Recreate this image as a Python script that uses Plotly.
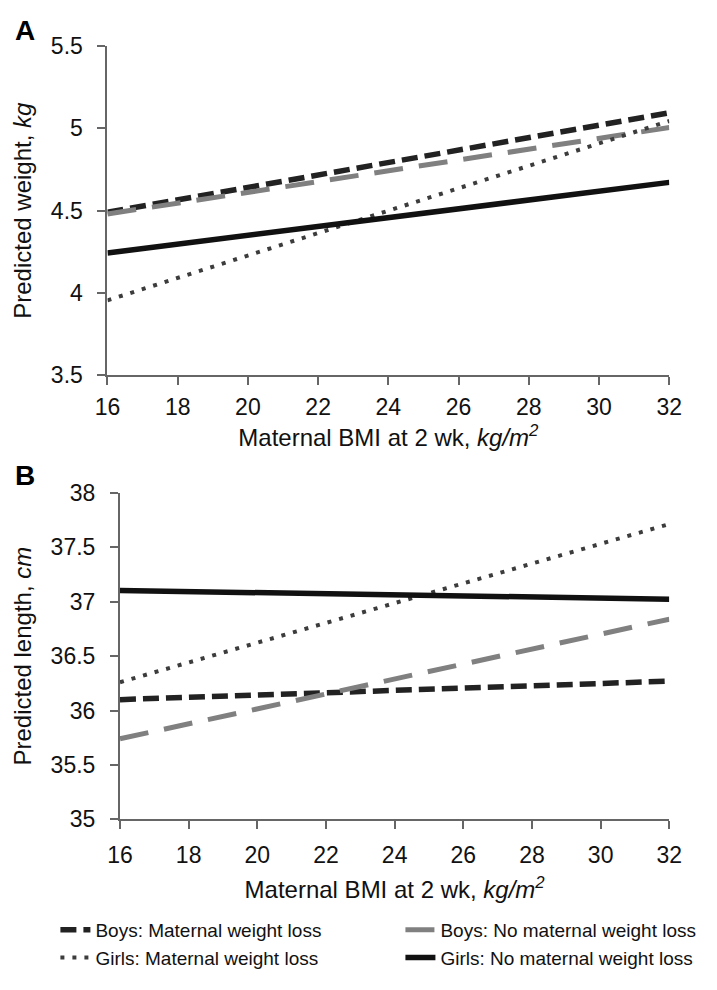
import plotly.graph_objects as go

bmi = [16, 32]
x_ticks = [16, 18, 20, 22, 24, 26, 28, 30, 32]

series_names = ["Boys: Maternal weight loss", "Boys: No maternal weight loss",
                "Girls: Maternal weight loss", "Girls: No maternal weight loss"]

weight_boys_ml = [4.49, 5.095]
weight_boys_noml = [4.48, 5.005]
weight_girls_ml = [3.955, 5.045]
weight_girls_noml = [4.243, 4.672]

length_boys_ml = [36.10, 36.27]
length_boys_noml = [35.74, 36.84]
length_girls_ml = [36.26, 37.715]
length_girls_noml = [37.104, 37.024]

styles = [
    dict(color="#222222", width=5.5, dash="16px,7px"),
    dict(color="#808080", width=5, dash="29px,16px"),
    dict(color="#3c3c3c", width=4, dash="4px,8px"),
    dict(color="#111111", width=5.5, dash="solid"),
]
# legend column for each series (left column: maternal weight loss)
legend_ids = ["legend", "legend2", "legend", "legend2"]

FONT = "Liberation Sans, Arial, sans-serif"
TXT = "#111111"

fig = go.Figure()
weights = [weight_boys_ml, weight_boys_noml, weight_girls_ml, weight_girls_noml]
lengths = [length_boys_ml, length_boys_noml, length_girls_ml, length_girls_noml]
for name, st, w, lg in zip(series_names, styles, weights, legend_ids):
    fig.add_trace(go.Scatter(x=bmi, y=w, mode="lines", name=name, line=st,
                             xaxis="x", yaxis="y", showlegend=True, legend=lg))
for name, st, l in zip(series_names, styles, lengths):
    fig.add_trace(go.Scatter(x=bmi, y=l, mode="lines", name=name, line=st,
                             xaxis="x2", yaxis="y2", showlegend=False))

H, W = 990, 717


def px_y(p):
    return 1 - p / H


axis_common = dict(showline=True, linecolor="#666666", linewidth=2, showgrid=False,
                   zeroline=False, ticks="outside", ticklen=8, tickwidth=2,
                   tickcolor="#666666",
                   tickfont=dict(size=23, color=TXT, family=FONT))

xaxis_title = dict(text="Maternal BMI at 2 wk, <i>kg/m<sup>2</sup></i>",
                   font=dict(size=24, color=TXT, family=FONT), standoff=10)

legend_common = dict(orientation="v", yanchor="bottom", y=0, xanchor="left",
                     font=dict(size=19, color=TXT, family=FONT),
                     itemwidth=30, traceorder="normal", bgcolor="rgba(0,0,0,0)",
                     tracegroupgap=0)

fig.update_layout(
    width=W, height=H,
    margin=dict(l=0, r=0, t=0, b=0),
    paper_bgcolor="white", plot_bgcolor="white",
    font=dict(family=FONT, color=TXT),
    hovermode=False,
    xaxis=dict(domain=[98 / W, 681 / W], anchor="y", range=[16, 32], tickvals=x_ticks,
               ticklabelstandoff=2, title=xaxis_title, **axis_common),
    yaxis=dict(domain=[px_y(372), px_y(34)], anchor="x", range=[3.5, 5.5], dtick=0.5,
               ticklabelstandoff=10,
               title=dict(text="Predicted weight, <i>kg</i>",
                          font=dict(size=24, color=TXT, family=FONT), standoff=12),
               **axis_common),
    xaxis2=dict(domain=[111 / W, 681 / W], anchor="y2", range=[16, 32], tickvals=x_ticks,
                ticklabelstandoff=6, title=dict(xaxis_title, standoff=14), **axis_common),
    yaxis2=dict(domain=[px_y(828), px_y(493)], anchor="x2", range=[35, 38], dtick=0.5,
                ticklabelstandoff=10,
                title=dict(text="Predicted length, <i>cm</i>",
                           font=dict(size=24, color=TXT, family=FONT), standoff=12),
                **axis_common),
    legend=dict(x=44 / W, **legend_common),
    legend2=dict(x=402 / W, **legend_common),
    showlegend=True,
    annotations=[
        dict(text="<b>A</b>", x=0, y=px_y(0), xref="paper", yref="paper",
             xanchor="left", yanchor="top", showarrow=False,
             font=dict(size=28, family=FONT, color="black")),
        dict(text="<b>B</b>", x=0, y=px_y(457), xref="paper", yref="paper",
             xanchor="left", yanchor="top", showarrow=False,
             font=dict(size=28, family=FONT, color="black")),
    ],
)

fig.write_html("out.html", config={"displayModeBar": False, "staticPlot": False},
               post_script="document.body.style.margin='0px';")
